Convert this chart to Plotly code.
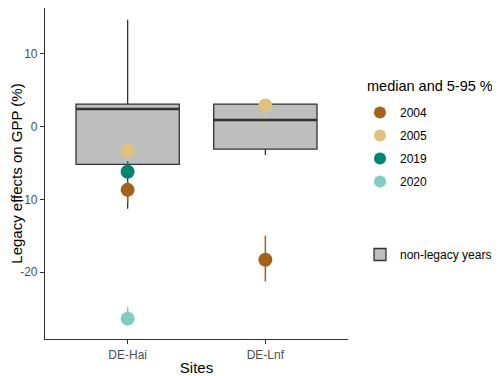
import plotly.graph_objects as go

# site boxplots (non-legacy years)
sites = ['DE-Hai', 'DE-Lnf']
box_q1 = [-5.2, -3.1]
box_median = [2.4, 0.9]
box_q3 = [3.1, 3.1]
box_low = [-11.3, -3.9]
box_high = [14.7, 3.1]

# legacy years: median and 5-95 % range
years = ['2004', '2005', '2019', '2020']
year_colors = ['#A6611A', '#DFC27D', '#018571', '#80CDC1']
year_sites = {
    '2004': ['DE-Hai', 'DE-Lnf'],
    '2005': ['DE-Hai', 'DE-Lnf'],
    '2019': ['DE-Hai'],
    '2020': ['DE-Hai'],
}
year_median = {
    '2004': [-8.7, -18.3],
    '2005': [-3.3, 2.9],
    '2019': [-6.2],
    '2020': [-26.4],
}
year_p05 = {
    '2004': [-10.5, -21.3],
    '2005': [-3.9, -0.5],
    '2019': [-7.0],
    '2020': [-26.9],
}
year_p95 = {
    '2004': [-7.6, -15.0],
    '2005': [-2.7, 3.3],
    '2019': [-4.75],
    '2020': [-24.8],
}

y_ticks = [-20, -10, 0, 10]
y_ticktext = ['-20', '-10', '0', '10']

fig = go.Figure()

fig.add_trace(go.Box(
    x=sites, q1=box_q1, median=box_median, q3=box_q3,
    lowerfence=box_low, upperfence=box_high, width=0.75,
    name='non-legacy years', fillcolor='#BEBEBE',
    line=dict(color='#333333', width=1.3), whiskerwidth=0,
    boxpoints=False, legend='legend2', hoverinfo='skip'))

# thicker median line like ggplot
for i, m in enumerate(box_median):
    fig.add_shape(type='line', xref='x', yref='y', x0=i - 0.375, x1=i + 0.375,
                  y0=m, y1=m, line=dict(color='#333333', width=2.5))

for yr, col in zip(years, year_colors):
    med = year_median[yr]
    fig.add_trace(go.Scatter(
        x=year_sites[yr], y=med, mode='markers', name=yr, legendgroup=yr,
        marker=dict(color=col, size=14),
        error_y=dict(type='data', symmetric=False,
                     array=[h - m for h, m in zip(year_p95[yr], med)],
                     arrayminus=[m - l for l, m in zip(year_p05[yr], med)],
                     color=col, thickness=1.5, width=0),
        legend='legend'))

# legend title as an annotation so the gap above the items matches
fig.add_annotation(text='median and 5-95 %', xref='paper', yref='paper',
                   x=(357 - 37) / 303, y=1 - 78 / 331, xanchor='left', yanchor='middle',
                   showarrow=False, font=dict(size=14.5, color='#000000'))

# page body has an 8px margin, so the figure is 8px smaller than the window
fig.update_layout(
    width=492, height=368,
    margin=dict(l=37, r=152, t=0, b=37),
    plot_bgcolor='white', paper_bgcolor='white',
    font=dict(family='Liberation Sans, Arial, sans-serif', color='#000000'),
    showlegend=True,
    xaxis=dict(title=dict(text='Sites', font=dict(size=15), standoff=3),
               range=[-0.6, 1.6], showline=True, linecolor='#333333', linewidth=1.2,
               ticks='outside', ticklen=4, tickcolor='#333333', automargin=False,
               tickfont=dict(size=12, color='#4D4D4D'), showgrid=False),
    yaxis=dict(title=dict(text='Legacy effects on GPP (%)', font=dict(size=15), standoff=0),
               range=[-29.2, 16.3], tickvals=y_ticks, ticktext=y_ticktext,
               showline=True, linecolor='#333333', linewidth=1.2, automargin=False,
               ticks='outside', ticklen=4, tickcolor='#333333',
               tickfont=dict(size=12, color='#4D4D4D'), showgrid=False, zeroline=False),
    legend=dict(xref='container', yref='container',
                x=352 / 492, y=1 - 90 / 368, xanchor='left', yanchor='top',
                font=dict(size=12), itemsizing='constant', tracegroupgap=4),
    legend2=dict(xref='container', yref='container',
                 x=352 / 492, y=1 - 232 / 368, xanchor='left', yanchor='top',
                 font=dict(size=12)),
)

fig.write_html("out.html")
